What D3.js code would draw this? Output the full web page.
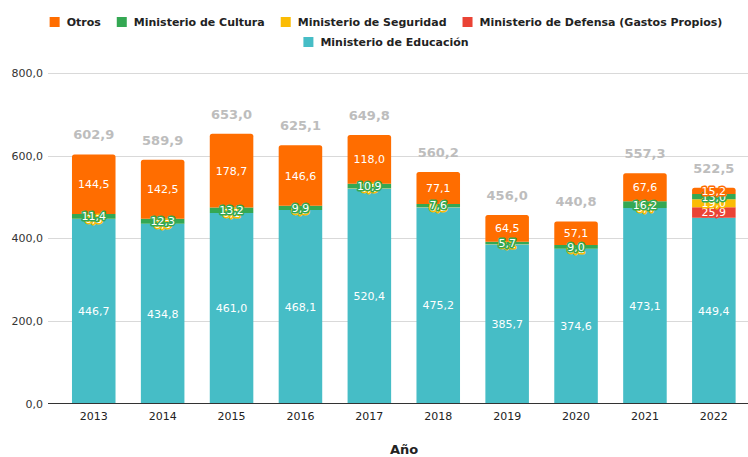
<!DOCTYPE html>
<html><head><meta charset="utf-8">
<script src="https://cdn.jsdelivr.net/npm/d3@7"></script>
<style>body{margin:0;background:#fff}svg{display:block;font-family:"DejaVu Sans",Verdana,sans-serif}</style>
</head><body><svg id="c" width="748" height="457"></svg>
<script>
const years = ["2013","2014","2015","2016","2017","2018","2019","2020","2021","2022"];
const educacion = [446.7,434.8,461.0,468.1,520.4,475.2,385.7,374.6,473.1,449.4];
const defensa   = [0,0,0,0,0,0,0,0,0,25.9];
const seguridad = [0.3,0.3,0.1,0.5,0.5,0.3,0.1,0.1,0.4,19.0];
const cultura   = [11.4,12.3,13.2,9.9,10.9,7.6,5.7,9.0,16.2,13.0];
const otros     = [144.5,142.5,178.7,146.6,118.0,77.1,64.5,57.1,67.6,15.2];
const totals    = [602.9,589.9,653.0,625.1,649.8,560.2,456.0,440.8,557.3,522.5];
const yTicks = [0,200,400,600,800];

const series = [
  {name:"Ministerio de Educación", values:educacion, color:"#46bdc6"},
  {name:"Ministerio de Defensa (Gastos Propios)", values:defensa, color:"#ea4335"},
  {name:"Ministerio de Seguridad", values:seguridad, color:"#fbbc04"},
  {name:"Ministerio de Cultura", values:cultura, color:"#34a853"},
  {name:"Otros", values:otros, color:"#ff6d00"}
];
const fmt = v => d3.format(".1f")(v).replace(".", ",");

const svg = d3.select("#c");
const x = d3.scaleBand().domain(years).range([59.3, 748.3]).paddingInner(0.368).paddingOuter(0.184);
const y = d3.scaleLinear().domain([0,800]).range([403.5, 73]);

// grid
svg.append("g").selectAll("line").data(yTicks.filter(d=>d>0)).join("line")
  .attr("x1",48).attr("x2",748).attr("y1",d=>Math.round(y(d))+0.5).attr("y2",d=>Math.round(y(d))+0.5)
  .attr("stroke","#d9d9d9");
// y labels
svg.append("g").selectAll("text").data(yTicks).join("text")
  .attr("x",43).attr("y",d=>y(d)+4).attr("text-anchor","end").attr("font-size",11).attr("fill","#333")
  .text(d=>fmt(d));

// stack
const rows = years.map((yr,i)=>{const o={year:yr}; series.forEach(s=>o[s.name]=s.values[i]); return o;});
const stack = d3.stack().keys(series.map(s=>s.name))(rows);

const r = 2.5;
function barPath(x0,y0,w,h,round){
  if(!round||h<r*2) return `M${x0},${y0}h${w}v${h}h${-w}Z`;
  return `M${x0},${y0+h}V${y0+r}Q${x0},${y0} ${x0+r},${y0}H${x0+w-r}Q${x0+w},${y0} ${x0+w},${y0+r}V${y0+h}Z`;
}
stack.forEach((layer,li)=>{
  const s = series[li];
  svg.append("g").selectAll("path").data(layer).join("path")
    .attr("d",(d,i)=>{
      const top = li===stack.length-1;
      return barPath(x(d.data.year), y(d[1]), x.bandwidth(), y(d[0])-y(d[1]), top);
    })
    .attr("fill",s.color);
});
// data labels
stack.forEach((layer,li)=>{
  const s = series[li];
  svg.append("g").selectAll("text").data(layer.filter(d=>d[1]-d[0]>0)).join("text")
    .attr("x",d=>x(d.data.year)+x.bandwidth()/2)
    .attr("y",d=>(y(d[0])+y(d[1]))/2+4)
    .attr("text-anchor","middle").attr("font-size",11)
    .attr("fill","#fff").attr("stroke",s.color).attr("stroke-width",3).attr("stroke-linejoin","round")
    .attr("paint-order","stroke")
    .text(d=>fmt(d[1]-d[0]));
});
// totals
svg.append("g").selectAll("text").data(years).join("text")
  .attr("x",d=>x(d)+x.bandwidth()/2).attr("y",(d,i)=>y(totals[i])-15)
  .attr("text-anchor","middle").attr("font-size",13).attr("font-weight","bold").attr("fill","#bdbdbd")
  .text((d,i)=>fmt(totals[i]));

// baseline
svg.append("line").attr("x1",48).attr("x2",748).attr("y1",403.5).attr("y2",403.5).attr("stroke","#333");
// x labels
svg.append("g").selectAll("text").data(years).join("text")
  .attr("x",d=>x(d)+x.bandwidth()/2).attr("y",420).attr("text-anchor","middle")
  .attr("font-size",11).attr("fill","#222").text(d=>d);
svg.append("text").attr("x",404).attr("y",454).attr("text-anchor","middle")
  .attr("font-size",13).attr("font-weight","bold").attr("fill","#222").text("Año");

// legend
const legendRows = [[4,3,2,1],[0]];
const lg = svg.append("g");
legendRows.forEach((row,ri)=>{
  const g = lg.append("g");
  let cx = 0;
  row.forEach(idx=>{
    const s = series[idx];
    g.append("rect").attr("x",cx).attr("y",-9).attr("width",10).attr("height",10).attr("fill",s.color);
    const t = g.append("text").attr("x",cx+17).attr("y",0).attr("font-size",11).attr("font-weight","bold")
      .attr("fill","#222").text(s.name);
    cx += 17 + t.node().getComputedTextLength() + 16;
  });
  const w = cx - 16;
  g.attr("transform",`translate(${386 - w/2},${26 + ri*20})`);
});
</script></body></html>
